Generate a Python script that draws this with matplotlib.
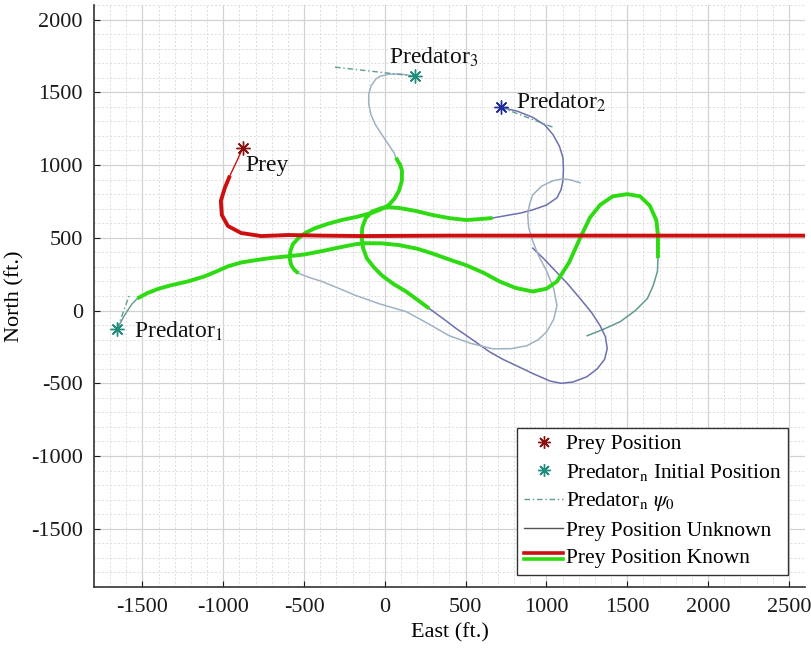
import matplotlib
matplotlib.use("Agg")
import matplotlib.pyplot as plt
from matplotlib.lines import Line2D
from matplotlib.legend_handler import HandlerBase
from matplotlib.ticker import MultipleLocator

plt.rcParams["font.family"] = ["Liberation Serif", "DejaVu Serif"]
plt.rcParams["mathtext.fontset"] = "stix"
plt.rcParams["axes.unicode_minus"] = False

# ---- trajectories (East, North) in feet ----
prey_start = (-878, 1120)
prey_unknown_east = [-878, -915, -959]
prey_unknown_north = [1120, 1030, 927]
prey_known_east = [-959, -990, -1015, -1009, -971, -890, -766, -598, -392, -143, 398, 1000, 1600, 2600]
prey_known_north = [927, 844, 754, 657, 581, 533, 512, 519, 515, 512, 515, 515, 515, 515]

pred1_start = (-1656, -124)
pred1_heading_east = [-1656, -1580]
pred1_heading_north = [-124, 110]
pred1_lead_east = [-1656, -1610, -1565, -1532]
pred1_lead_north = [-124, -30, 45, 83]
pred1_known_east = [-1532, -1470, -1400, -1326, -1220, -1115, -1040, -971, -890, -803, -700, -598,
                    -500, -392, -290, -181, -118, -20, 87, 200, 300, 400, 504, 610, 710, 810, 915,
                    1000, 1065, 1140, 1208, 1270, 1332, 1410, 1500, 1580, 1640, 1680, 1690, 1690]
pred1_known_north = [83, 120, 150, 173, 200, 235, 270, 304, 330, 346, 362, 373,
                     385, 408, 432, 456, 463, 462, 450, 425, 390, 350, 311, 260, 200, 155, 131,
                     150, 200, 330, 498, 640, 726, 785, 800, 785, 720, 620, 519, 360]
pred1_tail_east = [1690, 1687, 1660, 1625, 1550, 1457, 1350, 1252]
pred1_tail_north = [360, 270, 170, 83, 0, -76, -130, -173]

pred2_start = (716, 1397)
pred2_heading_east = [716, 1040]
pred2_heading_north = [1397, 1260]
pred2_lead_east = [716, 820, 915, 990, 1040, 1080, 1102, 1105, 1102, 1090, 1065, 1000, 915, 840, 772, 666]
pred2_lead_north = [1397, 1370, 1328, 1275, 1210, 1130, 1051, 970, 892, 830, 775, 725, 692, 670, 657, 636]
pred2_known_east = [666, 580, 504, 400, 293, 190, 87, 30, -19, -80, -118, -140, -143, -135, -112,
                    -70, -19, 50, 131, 200, 274]
pred2_known_north = [636, 628, 622, 635, 657, 685, 705, 710, 705, 680, 636, 570, 498, 430, 360,
                     300, 242, 185, 131, 75, 14]
pred2_tail_east = [274, 360, 442, 548, 648, 730, 816, 920, 1021, 1090, 1164, 1250, 1314, 1360, 1376,
                   1365, 1332, 1280, 1208, 1130, 1040, 980, 915]
pred2_tail_north = [14, -55, -124, -205, -284, -335, -380, -435, -484, -500, -491, -455, -401, -335, -263,
                    -180, -104, -15, 83, 185, 290, 360, 429]

pred3_start = (187, 1611)
pred3_heading_east = [187, -318]
pred3_heading_north = [1611, 1674]
pred3_lead_east = [187, 100, 25, -30, -56, -85, -100, -100, -87, -60, -19, 20, 56, 68]
pred3_lead_north = [1611, 1625, 1625, 1610, 1591, 1545, 1487, 1420, 1349, 1280, 1210, 1145, 1086, 1051]
pred3_known_east = [68, 95, 106, 105, 87, 60, 25, -25, -81, -170, -268, -350, -430, -490, -535, -570,
                    -585, -590, -579, -560, -535]
pred3_known_north = [1051, 1000, 961, 890, 823, 770, 726, 695, 671, 645, 622, 597, 567, 535, 498, 455,
                     408, 360, 311, 280, 256]
pred3_tail_east = [-535, -470, -392, -290, -181, -30, 131, 260, 398, 530, 666, 780, 878, 950, 1002, 1045,
                   1065, 1045, 1002, 950, 915, 890, 884, 895, 915, 970, 1040, 1100, 1146, 1208]
pred3_tail_north = [256, 228, 201, 155, 104, 45, -7, -85, -173, -225, -263, -262, -242, -200, -145, -60,
                    35, 150, 270, 380, 477, 570, 657, 730, 795, 855, 892, 905, 899, 878]

# ---- text ----
x_label = "East (ft.)"
y_label = "North (ft.)"
x_ticks = [-1500, -1000, -500, 0, 500, 1000, 1500, 2000, 2500]
y_ticks = [-1500, -1000, -500, 0, 500, 1000, 1500, 2000]
legend_labels = ["Prey Position", r"Predator$_\mathrm{n}$ Initial Position", r"Predator$_\mathrm{n}$ $\psi_0$",
                 "Prey Position Unknown", "Prey Position Known"]

# ---- styling ----
RED = "#cc1010"
GREEN = "#2edb12"
TEAL = "#1f8c7c"
C1 = "#5f9a90"
C2 = "#6c6fb0"
C3 = "#9fb2c4"
STAR = (8, 2, 0)

fig = plt.figure(figsize=(8.12, 6.51), dpi=100)
ax = fig.add_axes([94 / 812, 1 - 587 / 651, 711 / 812, 582 / 651])

ax.set_xlim(-1800, 2600)
ax.set_ylim(-1900, 2100)
ax.set_xticks(x_ticks)
ax.set_yticks(y_ticks)
ax.xaxis.set_minor_locator(MultipleLocator(100))
ax.yaxis.set_minor_locator(MultipleLocator(100))
ax.grid(True, which="major", color="#d2d2d2", lw=0.9, ls="-")
ax.grid(True, which="minor", color="#dddddd", lw=0.7, ls=(0, (2, 2)))
ax.set_axisbelow(True)
for s in ("top", "right"):
    ax.spines[s].set_visible(False)
for s in ("left", "bottom"):
    ax.spines[s].set_color("#333333")
    ax.spines[s].set_linewidth(1.2)
ax.tick_params(which="major", direction="in", length=4, labelsize=16, pad=8, colors="#1a1a1a")
ax.tick_params(which="minor", length=0)
ax.set_xlabel(x_label, fontsize=16, labelpad=4)
ax.set_ylabel(y_label, fontsize=16, labelpad=5)

# unknown (thin) segments
ax.plot(pred1_lead_east, pred1_lead_north, color=C1, lw=1.0)
ax.plot(pred1_tail_east, pred1_tail_north, color=C1, lw=1.1)
ax.plot(pred2_lead_east, pred2_lead_north, color=C2, lw=1.1)
ax.plot(pred2_tail_east, pred2_tail_north, color=C2, lw=1.1)
ax.plot(pred3_lead_east, pred3_lead_north, color=C3, lw=1.1)
ax.plot(pred3_tail_east, pred3_tail_north, color=C3, lw=1.1)
ax.plot(prey_unknown_east, prey_unknown_north, color=RED, lw=1.0)

# initial headings
for he, hn in ((pred1_heading_east, pred1_heading_north),
               (pred2_heading_east, pred2_heading_north),
               (pred3_heading_east, pred3_heading_north)):
    ax.plot(he, hn, color=C1, lw=1.0, ls=(0, (4, 2, 1, 2)))

# known (thick) segments
kw = dict(lw=2.8, solid_joinstyle="round", solid_capstyle="butt")
ax.plot(pred1_known_east, pred1_known_north, color=GREEN, **kw)
ax.plot(pred2_known_east, pred2_known_north, color=GREEN, **kw)
ax.plot(pred3_known_east, pred3_known_north, color=GREEN, **kw)
ax.plot(prey_known_east, prey_known_north, color=RED, **kw)

# start markers
mk = dict(ls="none", marker=STAR, ms=10, mew=1.0)
ax.plot(*prey_start, color="#8b1010", **mk)
ax.plot(*pred1_start, color=TEAL, **mk)
ax.plot(*pred2_start, color="#202c9a", **mk)
ax.plot(*pred3_start, color=TEAL, **mk)

# names
txt = dict(fontsize=17, color="#111111", va="center", ha="left")
ax.text(-866, 1000, "Prey", **txt)
ax.text(-1550, -145, "Predator$_1$", **txt)
ax.text(25, 1743, "Predator$_3$", **txt)
ax.text(810, 1432, "Predator$_2$", **txt)


class KnownKey:
    pass


class DoubleLineHandler(HandlerBase):
    """Legend key drawn as a red line stacked over a green line."""

    def create_artists(self, legend, orig_handle, xdescent, ydescent, width, height, fontsize, trans):
        x0, x1 = -xdescent, width - xdescent
        yc = height / 2 - ydescent
        top = Line2D([x0, x1], [yc + 0.2 * height] * 2, color=RED, lw=2.6, transform=trans)
        bot = Line2D([x0, x1], [yc - 0.2 * height] * 2, color=GREEN, lw=2.6, transform=trans)
        return [top, bot]


handles = [
    Line2D([], [], ls="none", marker=STAR, ms=9, mew=1.0, color="#8b1010"),
    Line2D([], [], ls="none", marker=STAR, ms=9, mew=1.0, color=TEAL),
    Line2D([], [], color=C1, lw=1.0, ls=(0, (4, 2, 1, 2))),
    Line2D([], [], color="#555555", lw=1.0),
    KnownKey(),
]
leg = ax.legend(handles, legend_labels, handler_map={KnownKey: DoubleLineHandler()},
                loc="lower right", bbox_to_anchor=(0.976, 0.021), borderaxespad=0,
                fontsize=15.5, handlelength=1.85, handletextpad=0.1, labelspacing=0.35,
                borderpad=0.3, fancybox=False, framealpha=1, edgecolor="#333333")
leg.get_frame().set_linewidth(1.0)

fig.savefig("out.png", dpi=100)
